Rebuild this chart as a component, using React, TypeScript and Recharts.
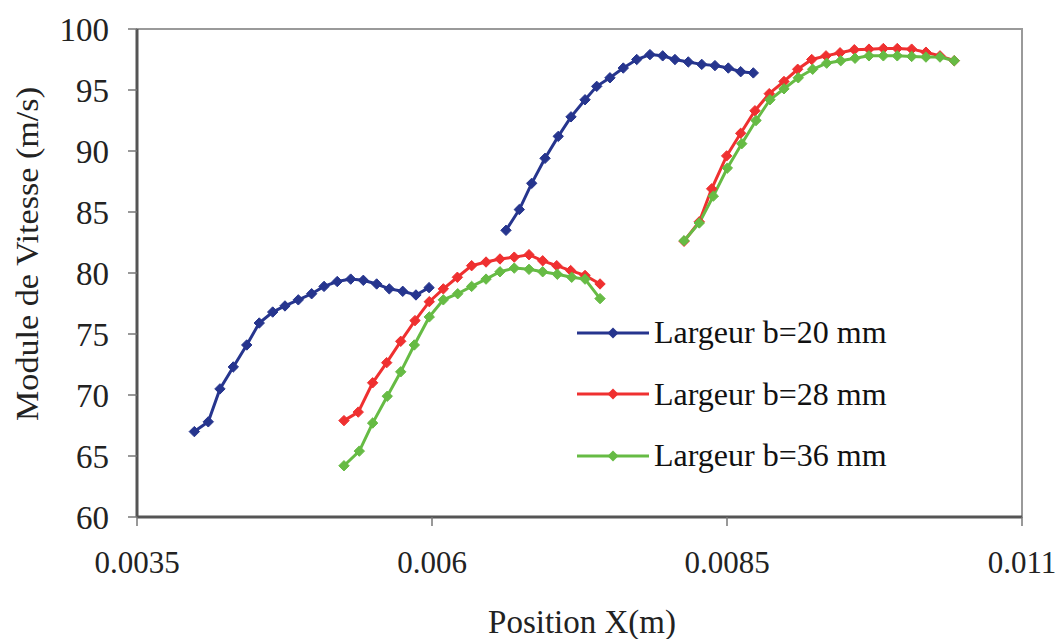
import React from 'react';
import { LineChart, Line, XAxis, YAxis, Legend, Label, ReferenceArea } from 'recharts';

// each series comes in two pieces, the curve is broken between them
const blueA: [number, number][] = [
  [0.003986, 67.0], [0.004104, 67.8], [0.004203, 70.5], [0.004316, 72.3], [0.00443, 74.1],
  [0.004536, 75.9], [0.00465, 76.8], [0.004754, 77.3], [0.004867, 77.8], [0.00498, 78.3],
  [0.005085, 78.9], [0.005197, 79.3], [0.005311, 79.5], [0.005418, 79.4], [0.005531, 79.1],
  [0.005638, 78.7], [0.005752, 78.5], [0.005864, 78.2], [0.005975, 78.8],
];
const blueB: [number, number][] = [
  [0.006627, 83.5], [0.00674, 85.2], [0.006845, 87.35], [0.006958, 89.4], [0.00707, 91.2],
  [0.007178, 92.8], [0.007297, 94.2], [0.007396, 95.3], [0.007508, 96.0], [0.007621, 96.8],
  [0.007735, 97.5], [0.007847, 97.9], [0.007955, 97.8], [0.008059, 97.5], [0.008172, 97.3],
  [0.008286, 97.1], [0.008398, 97.0], [0.008511, 96.8], [0.008616, 96.5], [0.008723, 96.4],
];
const redA: [number, number][] = [
  [0.005254, 67.9], [0.005375, 68.6], [0.005497, 71.0], [0.005616, 72.65], [0.005735, 74.4],
  [0.005856, 76.1], [0.005977, 77.65], [0.006096, 78.7], [0.006215, 79.65], [0.006336, 80.6],
  [0.006458, 80.9], [0.006576, 81.15], [0.006697, 81.3], [0.006822, 81.5], [0.006938, 81.0],
  [0.007057, 80.6], [0.007175, 80.2], [0.007297, 79.8], [0.007424, 79.1],
];
const redB: [number, number][] = [
  [0.008136, 82.6], [0.008265, 84.2], [0.00837, 86.9], [0.008497, 89.6], [0.008616, 91.45],
  [0.008737, 93.3], [0.008858, 94.7], [0.008983, 95.7], [0.009099, 96.7], [0.009218, 97.5],
  [0.009339, 97.8], [0.009458, 98.05], [0.009579, 98.3], [0.009703, 98.35], [0.009825, 98.4],
  [0.009943, 98.4], [0.010065, 98.35], [0.010186, 98.1], [0.010305, 97.8], [0.010426, 97.4],
];
const greenA: [number, number][] = [
  [0.005254, 64.2], [0.005384, 65.4], [0.005497, 67.7], [0.005621, 69.9], [0.005735, 71.9],
  [0.00585, 74.1], [0.005977, 76.4], [0.006096, 77.8], [0.006218, 78.3], [0.006336, 78.9],
  [0.006458, 79.5], [0.006576, 80.1], [0.006697, 80.4], [0.006822, 80.3], [0.006938, 80.1],
  [0.007062, 79.9], [0.007184, 79.65], [0.007297, 79.5], [0.007424, 77.9],
];
const greenB: [number, number][] = [
  [0.008136, 82.65], [0.008265, 84.1], [0.008384, 86.3], [0.008503, 88.6], [0.008625, 90.6],
  [0.008746, 92.5], [0.008864, 94.2], [0.008983, 95.1], [0.009104, 96.0], [0.009226, 96.7],
  [0.009345, 97.2], [0.009464, 97.4], [0.009585, 97.6], [0.009703, 97.8], [0.009825, 97.8],
  [0.009943, 97.8], [0.010065, 97.75], [0.010186, 97.7], [0.010305, 97.7], [0.010426, 97.4],
];

const seriesNames = ['Largeur b=20 mm', 'Largeur b=28 mm', 'Largeur b=36 mm'];
const seriesColors = ['#26358e', '#ef3030', '#66bb44'];
const xTicks = [0.0035, 0.006, 0.0085, 0.011];
const yTicks = [60, 65, 70, 75, 80, 85, 90, 95, 100];

const FONT = '"Liberation Serif", "Times New Roman", serif';

const toPoints = (pts: [number, number][]) => pts.map(([x, y]) => ({ x, y }));

const Diamond = (color: string) => (props: any) => {
  const { cx, cy } = props;
  if (cx == null || cy == null) return null;
  const r = 5.2;
  return (
    <path
      key={`${cx}-${cy}`}
      d={`M${cx},${cy - r}L${cx + r},${cy}L${cx},${cy + r}L${cx - r},${cy}Z`}
      fill={color}
      stroke={color}
      strokeWidth={1}
    />
  );
};

const LegendBox = () => (
  <div style={{ fontFamily: FONT, fontSize: 32, color: '#111' }}>
    {seriesNames.map((name, i) => (
      <div key={name} style={{ display: 'flex', alignItems: 'center', height: 61.5 }}>
        <svg width={76} height={20} style={{ marginRight: 1 }}>
          <line x1={0} y1={10} x2={72} y2={10} stroke={seriesColors[i]} strokeWidth={3} />
          <path d="M36,4.5L41.5,10L36,15.5L30.5,10Z" fill={seriesColors[i]} />
        </svg>
        <span>{name}</span>
      </div>
    ))}
  </div>
);

export default function App() {
  const segments = [
    { data: blueA, c: 0 }, { data: blueB, c: 0 },
    { data: redA, c: 1 }, { data: redB, c: 1 },
    { data: greenA, c: 2 }, { data: greenB, c: 2 },
  ];
  return (
    <div style={{ position: 'absolute', left: 0, top: 0, background: '#fff' }}>
      <LineChart width={1064} height={639} margin={{ top: 29, right: 42, bottom: 0, left: 0 }}>
        <ReferenceArea
          x1={0.0035} x2={0.011} y1={60} y2={100}
          fill="none" stroke="#9a9a9a" strokeWidth={2}
        />
        <XAxis
          dataKey="x" type="number" domain={[0.0035, 0.011]} ticks={xTicks}
          allowDataOverflow height={122} interval={0}
          tickFormatter={(v: number) => String(v)}
          tick={{ fontFamily: FONT, fontSize: 31, fill: '#222' }}
          tickSize={9} tickMargin={25}
          axisLine={{ stroke: '#555', strokeWidth: 3 }}
          tickLine={{ stroke: '#777', strokeWidth: 1.5 }}
        >
          <Label
            content={() => (
              <text x={582} y={622} textAnchor="middle" dominantBaseline="central"
                fontFamily={FONT} fontSize={33} fill="#222">Position X(m)</text>
            )}
          />
        </XAxis>
        <YAxis
          type="number" domain={[60, 100]} ticks={yTicks} interval={0}
          allowDataOverflow width={137}
          tick={{ fontFamily: FONT, fontSize: 33, fill: '#222' }}
          tickSize={9} tickMargin={19}
          axisLine={{ stroke: '#555', strokeWidth: 3 }}
          tickLine={{ stroke: '#777', strokeWidth: 1.5 }}
        >
          <Label
            content={() => (
              <text x={27} y={254} transform="rotate(-90 27 254)" textAnchor="middle"
                dominantBaseline="central" fontFamily={FONT} fontSize={31} fill="#222"
                textLength={334} lengthAdjust="spacingAndGlyphs">Module de Vitesse (m/s)</text>
            )}
          />
        </YAxis>
        <Legend
          layout="vertical" align="center" verticalAlign="middle"
          wrapperStyle={{ left: 577, top: 302, width: 380 }}
          content={() => <LegendBox />}
        />
        {segments.map((s, i) => (
          <Line
            key={i}
            data={toPoints(s.data)}
            dataKey="y"
            type="linear"
            stroke={seriesColors[s.c]}
            strokeWidth={3}
            dot={Diamond(seriesColors[s.c])}
            activeDot={false}
            legendType="none"
            isAnimationActive={false}
          />
        ))}
      </LineChart>
    </div>
  );
}
